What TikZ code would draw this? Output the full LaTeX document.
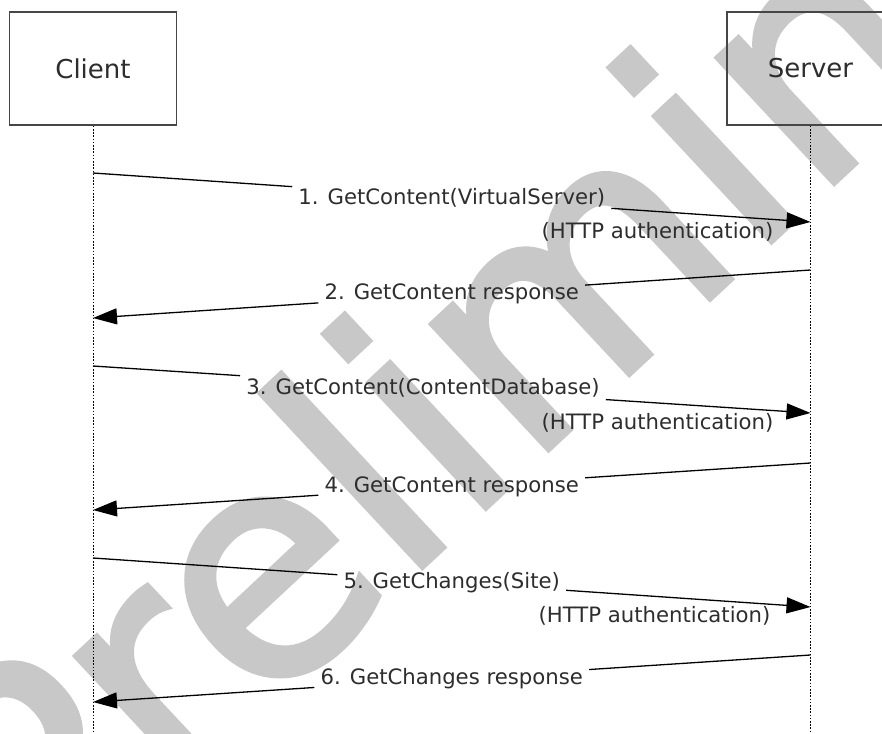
\documentclass[tikz,border=0pt]{standalone}
\usepackage{fontspec}
\setmainfont{DejaVu Sans}
\newfontfamily\stampfont[FakeBold=2]{DejaVu Sans}
\usetikzlibrary{arrows.meta,positioning,calc}
\definecolor{ink}{RGB}{45,45,45}
\definecolor{frame}{RGB}{70,70,70}
\definecolor{stamp}{RGB}{200,200,200}
\tikzstyle{actor} = [rectangle, draw=frame, line width=1.5pt, minimum width=167pt, minimum height=113pt, text=ink, font=\fontsize{26}{30}\selectfont]
\tikzstyle{msg} = [inner xsep=6pt, inner ysep=4pt, text=ink, font=\fontsize{21.2}{25}\selectfont]
\tikzstyle{note} = [inner sep=0pt, anchor=east, text=ink, font=\fontsize{21.2}{25}\selectfont]
\tikzstyle{life} = [draw, line width=1pt, dash pattern=on 1.6pt off 1.6pt]
\tikzstyle{tline} = [draw, line width=1.3pt]
\tikzstyle{tedge} = [draw, line width=1.3pt, -{Triangle[length=24pt,width=16pt]}]

\begin{document}
\begin{tikzpicture}[x=1pt,y=-1pt]
\useasboundingbox (0,0) rectangle (882,733);

% watermark ==============================
\node[anchor=base west, rotate=43, inner sep=0pt, text=stamp, font=\stampfont\fontsize{312}{312}\selectfont] (stamp) at (38,925) {Preliminary};

% actors =================================
\node[actor] (client) at (93,68.5) {Client};
\node[actor, right=549pt of client] (server) {Server};

% lifelines
\coordinate (cend) at (client |- 0,733);
\coordinate (send) at (server |- 0,733);
\path[life] (client) -- (cend);
\path[life] (server) -- (send);

% message ends
\coordinate (c1) at (client |- 0,173);
\coordinate (s1) at (server |- 0,222);
\coordinate (s2) at (server |- 0,270);
\coordinate (c2) at (client |- 0,318);
\coordinate (c3) at (client |- 0,366);
\coordinate (s3) at (server |- 0,413);
\coordinate (s4) at (server |- 0,463);
\coordinate (c4) at (client |- 0,510);
\coordinate (c5) at (client |- 0,558);
\coordinate (s5) at (server |- 0,607);
\coordinate (s6) at (server |- 0,655);
\coordinate (c6) at (client |- 0,702);

% labels
\node[msg] (m1) at ($(c1)!.5!(s1)$) {1. GetContent(VirtualServer)};
\node[note] (auth1) at ($(s1)+(-37,10)$) {(HTTP authentication)};
\node[msg] (m2) at ($(s2)!.5!(c2)$) {2. GetContent response};
\node[msg] (m3) at ($(c3)!.46!(s3)$) {3. GetContent(ContentDatabase)};
\node[note] (auth3) at ($(s3)+(-37,10)$) {(HTTP authentication)};
\node[msg] (m4) at ($(s4)!.5!(c4)$) {4. GetContent response};
\node[msg] (m5) at ($(c5)!.5!(s5)$) {5. GetChanges(Site)};
\node[note] (auth5) at ($(s5)+(-40,9)$) {(HTTP authentication)};
\node[msg] (m6) at ($(s6)!.5!(c6)$) {6. GetChanges response};

%edges
\path[tline] (c1) -- (m1);
\path[tedge] (m1) -- (s1);
\path[tline] (s2) -- (m2);
\path[tedge] (m2) -- (c2);
\path[tline] (c3) -- (m3);
\path[tedge] (m3) -- (s3);
\path[tline] (s4) -- (m4);
\path[tedge] (m4) -- (c4);
\path[tline] (c5) -- (m5);
\path[tedge] (m5) -- (s5);
\path[tline] (s6) -- (m6);
\path[tedge] (m6) -- (c6);

\end{tikzpicture}
\end{document}
